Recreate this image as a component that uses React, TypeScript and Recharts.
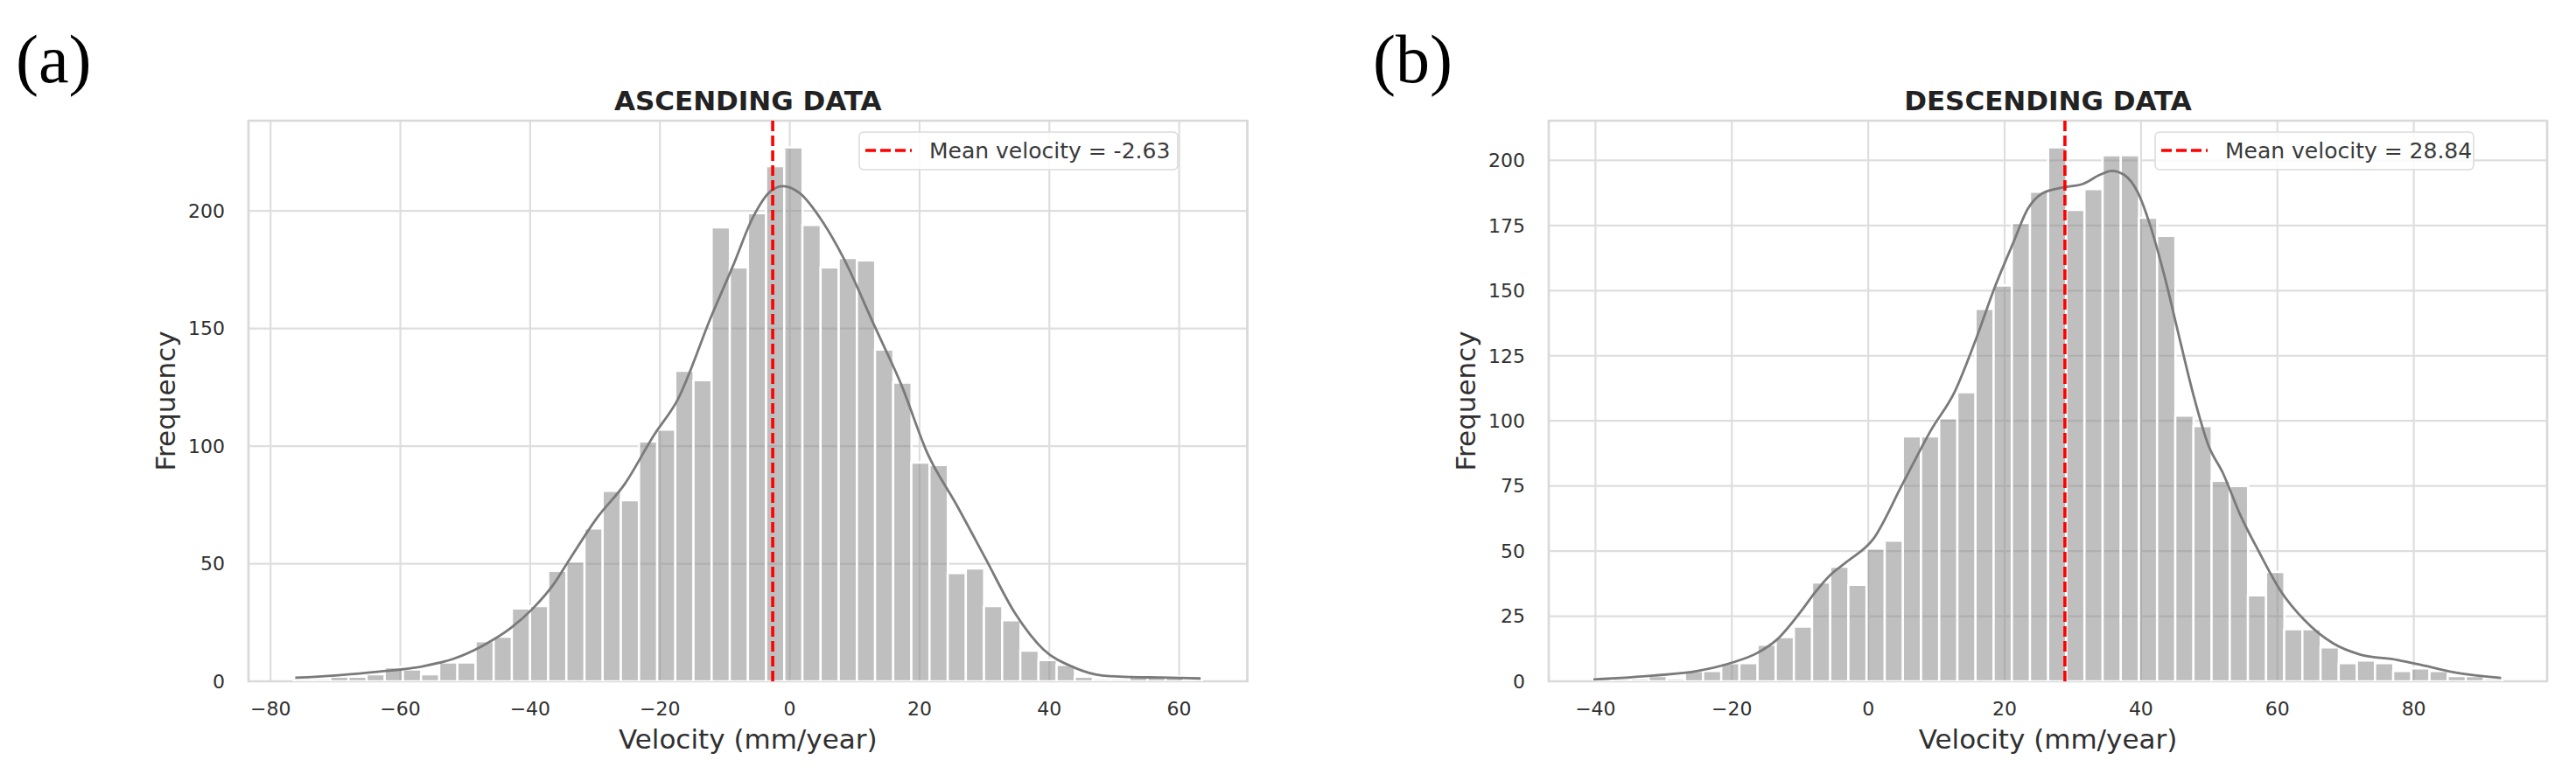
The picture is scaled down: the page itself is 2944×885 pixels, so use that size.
import React from 'react';
import {
  ComposedChart,
  Bar,
  Line,
  XAxis,
  YAxis,
  CartesianGrid,
  ReferenceLine,
  ReferenceArea,
} from 'recharts';

// ---------------- ASCENDING DATA ----------------
const ASC_COUNTS = [
  1, 1, 2, 2, 3, 6, 5, 3, 8, 8, 17, 19, 31, 32, 47, 51, 65, 81, 77, 102,
  107, 132, 128, 193, 176, 199, 219, 227, 194, 176, 180, 179, 141, 127, 93, 92, 46, 48, 32, 26,
  13, 9, 7, 2, 1, 1, 2, 2, 2, 1,
];
const ASC_BIN_START = -76.4;
const ASC_BIN_WIDTH = 2.798;
const ASC_KDE_X = [
  -76.2, -70, -63.2, -56.5, -52, -47.4, -43, -39.6, -36.3, -34, -29.7, -25.4, -20.9, -17.3, -12,
  -8.8, -5.6, -2.95, -1, 1.5, 5.1, 8.2, 13.1, 17.2, 21.2, 25.7, 30.2, 34.7, 39.1, 43.7, 48.1,
  52.6, 57.1, 63.3,
];
const ASC_KDE_Y = [
  1.5, 2.5, 4.1, 6.4, 9.4, 15, 22.6, 30.9, 41.6, 51.5, 69.5, 84, 104.8, 119.6, 155.8, 176.3,
  197.7, 208.4, 210.5, 207.6, 195.2, 180.4, 150.8, 126, 97, 75, 52, 29, 13.5, 6, 2.5, 1.8, 1.6,
  1.2,
];
const ASC_MEAN = -2.63;
const ASC_X_TICKS = [-80, -60, -40, -20, 0, 20, 40, 60];
const ASC_Y_TICKS = [0, 50, 100, 150, 200];
const ASC_X_DOMAIN: [number, number] = [-83.4, 70.5];
const ASC_Y_MAX = 238.35;

// ---------------- DESCENDING DATA ----------------
const DESC_COUNTS = [
  1, 1, 1, 2, 1, 4, 4, 7, 7, 14, 17, 21, 38, 44, 37, 51, 54, 94, 94, 101,
  111, 143, 152, 176, 188, 205, 181, 189, 202, 202, 178, 171, 102, 98, 77, 75, 33, 42, 20, 20,
  13, 7, 8, 7, 4, 5, 4, 2, 2, 1,
];
const DESC_BIN_START = -40.2;
const DESC_BIN_WIDTH = 2.663;
const DESC_KDE_X = [
  -40.3, -31.4, -25, -19.8, -16.4, -13.4, -10, -7.9, -5.7, -3.2, 0.7, 5.0, 9.2, 12.7, 15.7, 18.6,
  21.2, 23.4, 25.5, 28.5, 31.5, 34.0, 35.7, 37.5, 39.6, 41.3, 43.4, 45.6, 47.7, 49.9, 52.0, 54.6,
  57.2, 60.5, 64.0, 68.2, 72.1, 77.6, 81.9, 86.2, 92.8,
];
const DESC_KDE_Y = [
  0.7, 2.2, 4, 7.3, 10.7, 16, 26.4, 33.8, 40.5, 45.8, 54.5, 75.6, 96.4, 111.3, 130.7, 151.6, 168,
  181.4, 187.3, 189.6, 191, 194.5, 196, 194.5, 187.3, 175.4, 156, 132.2, 109.8, 90.5, 80, 63.6,
  50.2, 34.6, 23.4, 14.5, 10.3, 8.2, 5.8, 3.3, 1.3,
];
const DESC_MEAN = 28.84;
const DESC_X_TICKS = [-40, -20, 0, 20, 40, 60, 80];
const DESC_Y_TICKS = [0, 25, 50, 75, 100, 125, 150, 175, 200];
const DESC_X_DOMAIN: [number, number] = [-46.85, 99.55];
const DESC_Y_MAX = 215.25;

// ---------------- layout / style ----------------
const PAGE_W = 2944;
const PAGE_H = 885;
const PANEL_W = 1472;
const PLOT_TOP = 138;
const PLOT_BOTTOM = 779;
const Y_AXIS_W = 120;
const FONT = "'DejaVu Sans', Verdana, sans-serif";
const SERIF = "'Liberation Serif', 'Times New Roman', serif";
const TEXT_COLOR = '#303030';
const GRID_COLOR = '#dedede';

const fmtMinus = (v: number) => (v < 0 ? `\u2212${Math.abs(v)}` : `${v}`);

type PanelProps = {
  counts: number[];
  binStart: number;
  binWidth: number;
  kdeX: number[];
  kdeY: number[];
  mean: number;
  xTicks: number[];
  yTicks: number[];
  xDomain: [number, number];
  yMax: number;
  plotLeft: number;
  plotRight: number;
};

function Panel(p: PanelProps) {
  const bins = p.counts.map((c, i) => ({
    bin: (p.binStart + p.binWidth * (i + 0.5)).toFixed(2),
    count: c,
  }));
  const kde = p.kdeX.map((x, i) => ({ x, y: p.kdeY[i] }));
  const plotW = p.plotRight - p.plotLeft;
  const span = p.xDomain[1] - p.xDomain[0];
  const binEnd = p.binStart + p.binWidth * p.counts.length;
  const padL = ((p.binStart - p.xDomain[0]) / span) * plotW;
  const padR = ((p.xDomain[1] - binEnd) / span) * plotW;

  return (
    <ComposedChart
      width={PANEL_W}
      height={PAGE_H}
      data={bins}
      barCategoryGap={0}
      barGap={0}
      margin={{ top: PLOT_TOP, right: PANEL_W - p.plotRight, bottom: 0, left: p.plotLeft - Y_AXIS_W }}
    >
      <CartesianGrid xAxisId="num" stroke={GRID_COLOR} strokeWidth={2.2} />
      <XAxis
        xAxisId="cat"
        dataKey="bin"
        type="category"
        hide
        height={0}
        padding={{ left: padL, right: padR }}
      />
      <XAxis
        xAxisId="num"
        dataKey="x"
        type="number"
        domain={p.xDomain}
        allowDataOverflow
        ticks={p.xTicks}
        interval={0}
        tickFormatter={fmtMinus}
        height={PAGE_H - PLOT_BOTTOM}
        tickLine={false}
        axisLine={false}
        tickSize={0}
        tickMargin={23}
        tick={{ fill: TEXT_COLOR, fontSize: 22, fontFamily: FONT }}
        label={{
          value: 'Velocity (mm/year)',
          position: 'insideBottom',
          offset: 29,
          fill: TEXT_COLOR,
          fontSize: 31,
          fontFamily: FONT,
        }}
      />
      <YAxis
        type="number"
        domain={[0, p.yMax]}
        allowDataOverflow
        ticks={p.yTicks}
        interval={0}
        width={Y_AXIS_W}
        tickLine={false}
        axisLine={false}
        tickSize={0}
        tickMargin={27}
        tick={{ fill: TEXT_COLOR, fontSize: 22, fontFamily: FONT }}
        label={{
          value: 'Frequency',
          angle: -90,
          position: 'insideLeft',
          offset: 25,
          fill: TEXT_COLOR,
          fontSize: 31,
          fontFamily: FONT,
          style: { textAnchor: 'middle' },
        }}
      />
      <Bar
        xAxisId="cat"
        dataKey="count"
        fill="#808080"
        fillOpacity={0.5}
        stroke="#ffffff"
        strokeWidth={2.6}
        isAnimationActive={false}
      />
      <Line
        xAxisId="num"
        data={kde}
        dataKey="y"
        type="monotone"
        stroke="#7a7a7a"
        strokeWidth={2.8}
        dot={false}
        activeDot={false}
        isAnimationActive={false}
      />
      <ReferenceArea
        xAxisId="num"
        x1={p.xDomain[0]}
        x2={p.xDomain[1]}
        y1={0}
        y2={p.yMax}
        fill="none"
        fillOpacity={0}
        stroke="#d9d9d9"
        strokeWidth={2.6}
        ifOverflow="visible"
      />
      <ReferenceLine
        xAxisId="num"
        x={p.mean}
        stroke="#ff0000"
        strokeWidth={3.6}
        strokeDasharray="12 5"
      />
    </ComposedChart>
  );
}

function LegendBox({ x, label }: { x: number; label: string }) {
  const w = label.length > 21 ? 372 : 364;
  return (
    <g>
      <rect x={x} y={151} width={w} height={43} rx={5} fill="#ffffff" fillOpacity={0.85} stroke="#dcdcdc" strokeWidth={1.6} />
      <line x1={x + 7} y1={172} x2={x + 60} y2={172} stroke="#ff0000" strokeWidth={3.6} strokeDasharray="12 5" />
      <text x={x + 80} y={181} fontFamily={FONT} fontSize={25} fill="#3a3a3a">
        {label}
      </text>
    </g>
  );
}

export default function App() {
  return (
    <div style={{ position: 'absolute', left: 0, top: 0, width: PAGE_W, height: PAGE_H, background: '#ffffff', overflow: 'hidden' }}>
      <div style={{ position: 'absolute', left: 0, top: 0 }}>
        <Panel
          counts={ASC_COUNTS}
          binStart={ASC_BIN_START}
          binWidth={ASC_BIN_WIDTH}
          kdeX={ASC_KDE_X}
          kdeY={ASC_KDE_Y}
          mean={ASC_MEAN}
          xTicks={ASC_X_TICKS}
          yTicks={ASC_Y_TICKS}
          xDomain={ASC_X_DOMAIN}
          yMax={ASC_Y_MAX}
          plotLeft={284}
          plotRight={1425.5}
        />
      </div>
      <div style={{ position: 'absolute', left: PANEL_W, top: 0 }}>
        <Panel
          counts={DESC_COUNTS}
          binStart={DESC_BIN_START}
          binWidth={DESC_BIN_WIDTH}
          kdeX={DESC_KDE_X}
          kdeY={DESC_KDE_Y}
          mean={DESC_MEAN}
          xTicks={DESC_X_TICKS}
          yTicks={DESC_Y_TICKS}
          xDomain={DESC_X_DOMAIN}
          yMax={DESC_Y_MAX}
          plotLeft={298}
          plotRight={1439}
        />
      </div>
      <svg
        width={PAGE_W}
        height={PAGE_H}
        style={{ position: 'absolute', left: 0, top: 0, pointerEvents: 'none' }}
      >
        <text x={18} y={94} fontFamily={SERIF} fontSize={78} fill="#000000">(a)</text>
        <text x={1569} y={94} fontFamily={SERIF} fontSize={78} fill="#000000">(b)</text>
        <text x={854.75} y={125.5} textAnchor="middle" fontFamily={FONT} fontWeight="bold" fontSize={31} fill="#222222">
          ASCENDING DATA
        </text>
        <text x={2340.5} y={125.5} textAnchor="middle" fontFamily={FONT} fontWeight="bold" fontSize={31} fill="#222222">
          DESCENDING DATA
        </text>
        <LegendBox x={982} label="Mean velocity = -2.63" />
        <LegendBox x={2463} label="Mean velocity = 28.84" />
      </svg>
    </div>
  );
}
